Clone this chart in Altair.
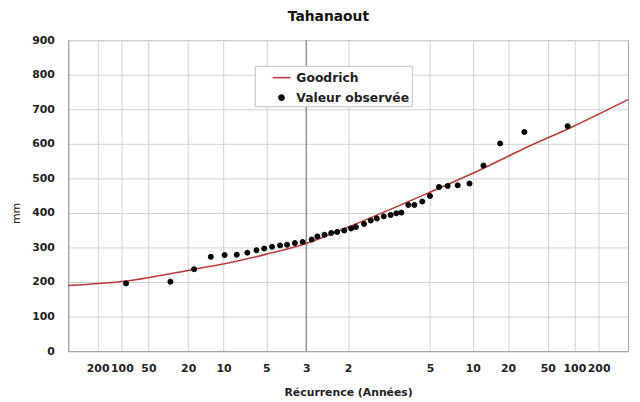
import altair as alt
import pandas as pd
from statistics import NormalDist

# ---------------- data ----------------
chart_title = "Tahanaout"
series_names = ["Goodrich", "Valeur observée"]
series_colors = ["#b83a3a", "#000000"]

# observed values: non-exceedance probability (%) and value (mm)
obs_prob = [1.12, 3.38, 5.66, 7.9, 10.2, 12.6, 15.0, 17.3, 19.4, 21.7, 24.2,
            26.5, 29.2, 32.0, 35.4, 37.6, 40.4, 43.1, 45.5, 48.4, 51.2, 53.2,
            56.5, 59.2, 61.6, 64.3, 66.9, 69.0, 70.8, 73.2, 75.2, 77.7, 80.0,
            82.5, 84.7, 87.0, 89.4, 91.8, 94.1, 96.5, 98.8]
obs_mm = [196, 201, 237, 273, 278, 279, 285, 292, 297, 302, 306,
          308, 313, 316, 323, 332, 337, 342, 345, 349, 355, 359,
          368, 378, 384, 390, 394, 399, 401, 423, 423, 433, 449,
          475, 478, 480, 485, 537, 601, 634, 651]

# fitted Goodrich curve read at a few probabilities (%)
curve_prob = [0.2, 1.13, 5.7, 10.2, 19.8, 33.0, 52.4, 80.0, 90.3, 96.4, 98.98, 99.8]
curve_mm = [190, 203, 237, 253, 280, 311, 366, 460, 517, 585, 651, 728]

# return-period tick labels (left: dry side, right: wet side)
ticks_T_low = [200, 100, 50, 20, 10, 5, 3, 2]
ticks_T_high = [5, 10, 20, 50, 100, 200]
bold_T = [3]
y_ticks = [0, 100, 200, 300, 400, 500, 600, 700, 800, 900]
x_prob_range = [0.2, 99.8]

# ---------------- helpers ----------------
nd = NormalDist()


def zq(p_pct):
    return nd.inv_cdf(p_pct / 100.0)


tick_z = [zq(100.0 / T) for T in ticks_T_low] + [zq(100.0 - 100.0 / T) for T in ticks_T_high]
x_dom = [zq(x_prob_range[0]), zq(x_prob_range[1])]

obs_df = pd.DataFrame({"z": [zq(p) for p in obs_prob], "mm": obs_mm,
                       "serie": series_names[1]})
curve_df = pd.DataFrame({"z": [zq(p) for p in curve_prob], "mm": curve_mm,
                         "serie": series_names[0]})
bold_df = pd.DataFrame({"z": [zq(100.0 / T) for T in bold_T]})

FONT = "DejaVu Sans"

x_scale = alt.Scale(domain=x_dom, nice=False, zero=False)
y_scale = alt.Scale(domain=[0, 900], nice=False)

x_axis = alt.Axis(
    values=tick_z,
    labelExpr="format(datum.value <= 0.000001 ? 1/cumulativeNormal(datum.value) : 1/(1-cumulativeNormal(datum.value)), '.0f')",
    title="Récurrence (Années)",
    grid=True, ticks=False, labelOverlap=False, labelFlush=False,
    labelPadding=12, titleY=36,
)
y_axis = alt.Axis(values=y_ticks, title="mm", grid=True, ticks=False,
                  labelPadding=14, titleX=-47, titleY=175,
                  titleFontWeight="normal")

legend = alt.Legend(title=None, orient="none", legendX=189, legendY=26,
                    padding=2, symbolOffset=15, rowPadding=7,
                    labelOffset=5, fillColor="white", strokeColor="#c0c0c0",
                    symbolStrokeWidth=1.6, labelFontSize=12.5)

color_scale = alt.Scale(domain=series_names, range=series_colors)
shape_scale = alt.Scale(domain=series_names, range=["stroke", "circle"])
size_scale = alt.Scale(domain=series_names, range=[324, 26])

rule = alt.Chart(bold_df).mark_rule(color="#8c8c8c", strokeWidth=1.3).encode(
    x=alt.X("z:Q", scale=x_scale, axis=x_axis)
)

line = alt.Chart(curve_df).mark_line(strokeWidth=1.6, interpolate="monotone").encode(
    x=alt.X("z:Q", scale=x_scale, axis=x_axis),
    y=alt.Y("mm:Q", scale=y_scale, axis=y_axis),
    stroke=alt.Stroke("serie:N", scale=color_scale, legend=legend),
)

points = alt.Chart(obs_df).mark_point(filled=False, opacity=1, strokeWidth=1).encode(
    x=alt.X("z:Q", scale=x_scale, axis=x_axis),
    y=alt.Y("mm:Q", scale=y_scale, axis=y_axis),
    stroke=alt.Stroke("serie:N", scale=color_scale, legend=legend),
    fill=alt.Fill("serie:N", scale=color_scale, legend=legend),
    shape=alt.Shape("serie:N", scale=shape_scale, legend=legend),
    size=alt.Size("serie:O", scale=size_scale, legend=legend),
)

chart = alt.layer(rule, line, points).properties(
    width=567, height=315,
    title=alt.TitleParams(chart_title, fontSize=14, font=FONT, fontWeight="bold",
                          anchor="middle", frame="group", dx=-20, offset=3,
                          baseline="middle", color="#111"),
    autosize=alt.AutoSizeParams(type="none"),
    padding={"left": 61, "top": 30, "right": 4, "bottom": 52},
).configure_view(
    stroke="#a0a0a0", strokeWidth=1
).configure_axis(
    labelFont=FONT, labelFontSize=11, labelFontWeight="bold", labelColor="#222",
    titleFont=FONT, titleFontSize=11, titleFontWeight="bold", titleColor="#222",
    gridColor="#d0d0d0", gridWidth=1, domainColor="#a0a0a0",
).configure_legend(
    labelFont=FONT, labelFontWeight="bold", labelColor="#222"
)

chart.save("out.html", embed_options={"renderer": "svg", "actions": False})
